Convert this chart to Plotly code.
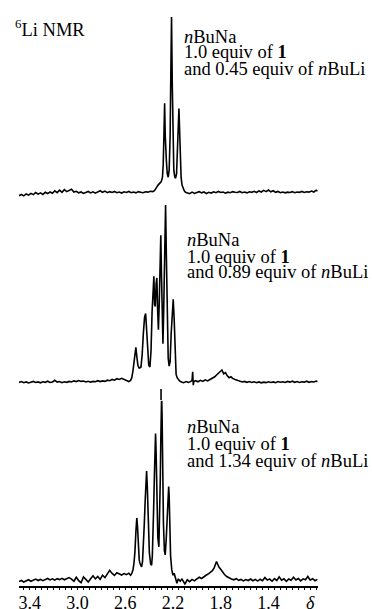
import plotly.graph_objects as go

# ---------------- data ----------------
# Top spectrum: nBuNa + 1.0 equiv of 1 + 0.45 equiv nBuLi
ppm_top = [3.49,3.47,3.45,3.43,3.41,3.39,3.37,3.35,3.33,3.31,3.29,3.27,3.25,3.23,3.21,3.19,3.17,3.15,3.13,3.11,
           3.09,3.07,3.05,3.03,3.01,2.99,2.97,2.95,2.93,2.91,2.89,2.87,2.85,2.83,2.81,2.79,2.77,2.75,2.73,2.71,
           2.69,2.67,2.65,2.63,2.61,2.59,2.57,2.55,2.53,2.51,2.49,2.47,2.45,2.43,2.41,2.39,2.37,2.355,
           2.345,2.335,2.325,2.310,2.298,2.288,2.282,2.276,2.270,2.265,2.261,2.255,2.248,2.240,2.232,2.224,
           2.218,2.212,2.206,2.200,2.193,2.185,2.178,2.170,2.163,2.156,2.150,2.145,2.139,2.132,2.124,2.115,
           2.105,2.095,
           2.08,2.06,2.04,2.02,2.00,1.98,1.96,1.94,1.92,1.90,1.88,1.86,1.84,1.82,1.80,1.78,1.76,1.74,1.72,1.70,
           1.68,1.66,1.64,1.62,1.60,1.58,1.56,1.54,1.52,1.50,1.48,1.46,1.44,1.42,1.40,1.38,1.36,1.34,1.32,1.30,
           1.28,1.26,1.24,1.22,1.20,1.18,1.16,1.14,1.12,1.10,1.08,1.06,1.04,1.02,1.00,0.99]
int_top = [-1.5,-0.8,-1.6,-0.5,-1.2,-0.2,-0.9,0.3,-0.6,0.1,-0.8,0.4,-0.3,0.6,-0.1,1.2,0.2,1.6,0.4,1.9,
           0.8,1.3,2.1,0.6,1.0,0.1,0.6,-0.2,0.4,0.9,0.1,0.7,-0.1,0.5,1.3,0.4,1.1,0.2,0.8,0.3,
           0.9,0.2,0.6,0.0,0.7,0.3,0.9,0.2,0.6,0.1,0.8,0.4,0.2,0.7,0.5,1.0,0.8,1.4,
           2.2,3.5,4.5,5.5,6.5,9,16,32,51,33,20,18,11,9,13,32,
           68,100,62,28,13,9,8.5,11,22,40,48,37,19,9,4.5,2.5,
           1.2,0.4,
           0.2,-0.4,0.5,-0.2,0.3,0.8,0.1,0.6,-0.3,0.4,0.0,0.7,0.2,0.9,0.3,0.6,-0.1,0.5,0.2,0.8,
           0.4,0.3,0.9,0.2,0.6,0.1,0.7,0.4,1.0,0.3,1.2,0.6,1.5,0.8,1.7,0.7,1.3,0.4,0.9,0.2,
           0.6,0.1,0.5,0.3,0.8,0.2,0.6,0.4,0.9,0.3,0.7,0.5,1.1,0.6,1.6,1.0]

# Middle spectrum: 0.89 equiv nBuLi
ppm_mid = [3.49,3.47,3.45,3.43,3.41,3.39,3.37,3.35,3.33,3.31,3.29,3.27,3.25,3.23,3.21,3.19,3.17,3.15,3.13,3.11,
           3.09,3.07,3.05,3.03,3.01,2.99,2.97,2.95,2.93,2.91,2.89,2.87,2.85,2.83,2.81,2.79,2.77,2.75,2.73,2.71,
           2.69,2.67,2.65,2.63,2.61,2.59,2.57,
           2.555,2.545,2.535,2.525,2.517,2.511,2.503,2.494,2.485,2.478,2.468,2.458,2.448,2.438,2.429,2.421,
           2.412,2.403,2.393,2.384,2.375,2.367,2.360,2.354,2.348,2.341,2.335,2.328,2.322,2.315,2.309,2.302,
           2.296,2.290,2.284,2.278,2.270,2.262,2.255,2.248,2.240,2.232,2.224,2.215,2.205,2.198,2.190,2.182,
           2.174,2.165,2.155,2.145,
           2.13,2.11,2.09,2.07,2.05,2.04,2.035,2.03,2.025,2.01,1.99,1.97,1.95,1.93,1.91,1.89,1.87,1.85,1.835,1.82,
           1.805,1.79,1.775,1.76,1.745,1.73,1.715,1.70,1.68,1.66,1.64,1.62,1.60,1.58,1.56,1.54,1.52,1.50,1.48,1.46,
           1.44,1.42,1.40,1.38,1.36,1.34,1.32,1.30,1.28,1.26,1.24,1.22,1.20,1.18,1.16,1.14,1.12,1.10,1.08,1.06,
           1.04,1.02,1.00,0.99]
int_mid = [0.3,0.8,0.2,0.6,0.0,0.5,0.9,0.3,0.6,0.1,0.7,0.4,1.0,0.3,0.6,1.5,0.5,0.8,0.2,0.7,
           0.4,0.9,0.6,1.2,0.8,1.4,0.9,1.1,0.6,1.0,0.5,0.9,0.7,1.3,0.8,1.2,0.9,1.6,1.3,2.0,
           1.6,2.4,2.0,2.6,1.9,1.2,0.8,
           1.5,3,7,13,18,20,15,10,8.5,8.5,9,16,28,37,39,30,
           16,10,9,18,40,58,60,44,43,56,59,40,30,45,70,83,
           60,28,22,40,78,100,70,30,14,9.5,12,28,44,47,36,14,
           5,3,1.8,1.2,
           0.6,0.2,0.8,0.3,0.9,1.5,6.3,-1.2,0.8,1.3,0.7,1.5,0.9,1.8,1.2,2.0,2.6,3.5,4.5,5.5,
           6.4,7.3,5.2,5.8,4.0,3.0,3.5,2.6,2.0,1.5,1.0,0.6,0.9,0.4,0.8,0.3,0.7,0.2,0.6,0.1,
           0.5,0.2,0.7,0.3,0.6,0.2,0.8,0.4,0.7,0.3,0.9,0.5,1.0,0.4,0.8,0.3,0.7,0.5,1.0,0.4,
           0.8,0.6,1.1,0.7]
ref_ppm = [2.30, 2.30]      # small marker below the middle spectrum
ref_int = [-3.4, -9.6]

# Bottom spectrum: 1.34 equiv nBuLi
ppm_bot = [3.49,3.47,3.45,3.43,3.41,3.39,3.37,3.35,3.33,3.31,3.29,3.27,3.25,3.23,3.21,3.19,3.17,3.15,3.13,3.11,
           3.09,3.07,3.05,3.03,3.01,2.99,2.97,2.95,2.93,2.91,2.89,2.87,2.85,2.83,2.81,2.79,2.77,2.75,2.73,2.71,
           2.69,2.67,2.65,2.63,2.61,2.59,2.57,
           2.555,2.545,2.535,2.527,2.519,2.510,2.503,2.497,2.490,2.483,2.477,2.470,2.463,2.455,2.447,2.440,
           2.433,2.427,2.421,2.415,2.410,2.404,2.398,2.387,2.379,2.373,2.368,2.362,2.356,2.351,2.346,2.341,
           2.337,2.332,2.327,2.318,2.310,2.306,2.302,2.298,2.295,2.291,2.288,2.284,2.280,2.272,2.265,2.256,
           2.250,2.246,2.241,2.236,2.232,2.228,2.220,2.210,2.200,
           2.19,2.18,2.167,2.155,2.14,2.125,2.11,2.10,2.08,2.06,2.04,2.02,2.00,1.98,1.96,1.94,1.92,1.90,1.885,1.87,
           1.855,1.845,1.835,1.825,1.815,1.80,1.785,1.77,1.75,1.73,
           1.71,1.69,1.67,1.65,1.63,1.61,1.59,1.57,1.55,1.53,1.51,1.49,1.47,1.45,1.43,1.41,1.39,1.37,1.35,1.33,
           1.31,1.29,1.27,1.25,1.23,1.21,1.19,1.17,1.15,1.13,1.11,1.09,1.07,1.05,1.03,1.01,0.99]
int_bot = [-2.0,-1.4,-2.2,-1.6,-1.0,-1.8,-1.2,-0.6,-1.4,-0.8,-1.5,-0.9,-0.3,-1.1,-0.5,-1.2,-0.4,-0.9,-0.2,-1.0,
           -0.3,0.2,-0.6,-1.8,0.4,-1.5,-2.6,0.6,-0.8,-2.2,-0.4,1.2,-0.5,0.8,-0.8,1.5,0.2,2.2,4.2,2.5,
           1.4,2.8,2.0,1.6,2.4,1.8,2.6,
           1.5,2.5,4.5,8,14,26,32.8,28,16,10,8,6.5,6,9,18,30,
           42,52,58.5,50,38,24,14,7.5,7,12,20,38,55,70,79,68,
           50,32,22,17,35,55,75,92,100,88,70,48,30,15,12.6,22,
           34,42,48,50,45,35,12,4.4,1.5,
           2.6,0.5,-2.9,-0.5,-1.8,-0.6,-2.6,-3.3,-1.0,-2.0,-0.8,-1.6,-0.5,0.4,-0.3,0.8,1.6,2.4,3.2,4.0,
           5.5,7.0,9.0,7.5,6.0,4.8,3.0,2.0,0.8,0.0,
           -0.6,-1.0,-0.4,-1.3,-0.8,-1.6,-0.9,-1.4,-0.6,-1.5,-0.8,-1.7,-0.7,-1.5,0.2,-1.2,-0.6,-1.8,-0.4,-1.4,
           0.6,-1.2,-0.5,-1.9,-0.6,-1.3,0.4,-1.1,-0.3,-1.6,-0.5,-1.0,0.8,-1.2,-0.4,-1.5,-0.8]

tick_vals = [3.4, 3.0, 2.6, 2.2, 1.8, 1.4, 1.05]
tick_text = ["3.4", "3.0", "2.6", "2.2", "1.8", "1.4", "<i>δ</i>"]

labels_top = ["<i>n</i>BuNa", "1.0 equiv of <b>1</b>", "and 0.45 equiv of <i>n</i>BuLi"]
labels_mid = ["<i>n</i>BuNa", "1.0 equiv of <b>1</b>", "and 0.89 equiv of <i>n</i>BuLi"]
labels_bot = ["<i>n</i>BuNa", "1.0 equiv of <b>1</b>", "and 1.34 equiv of <i>n</i>BuLi"]
title_text = "<sup>6</sup>Li NMR"

assert len(ppm_top) == len(int_top)
assert len(ppm_mid) == len(int_mid)
assert len(ppm_bot) == len(int_bot)

# ---------------- figure ----------------
FONT = "Liberation Serif, Times New Roman, serif"
line = dict(color="black", width=1.6)

fig = go.Figure()
fig.add_trace(go.Scatter(x=ppm_bot, y=int_bot, mode="lines", line=line, xaxis="x", yaxis="y"))
fig.add_trace(go.Scatter(x=ppm_mid, y=int_mid, mode="lines", line=line, xaxis="x", yaxis="y2"))
fig.add_trace(go.Scatter(x=ref_ppm, y=ref_int, mode="lines", line=dict(color="black", width=1.6),
                         xaxis="x", yaxis="y2"))
fig.add_trace(go.Scatter(x=ppm_top, y=int_top, mode="lines", line=line, xaxis="x", yaxis="y3"))

hidden_y = dict(visible=False, showgrid=False, zeroline=False, fixedrange=True, automargin=False)

fig.update_layout(
    template="none",
    width=372, height=609,
    margin=dict(l=19, r=54, t=10, b=23, autoexpand=False),
    paper_bgcolor="white", plot_bgcolor="white",
    showlegend=False,
    font=dict(family=FONT, size=18, color="black"),
    xaxis=dict(range=[3.49, 0.985], anchor="y", showgrid=False, zeroline=False, automargin=False,
               showline=True, linecolor="black", linewidth=1.5,
               ticks="outside", ticklen=0, tickwidth=1, tickcolor="black",
               tickmode="array", tickvals=tick_vals, ticktext=tick_text,
               tickfont=dict(family=FONT, size=18, color="black"),
               minor=dict(tickmode="linear", tick0=1.0, dtick=0.05, ticks="outside",
                          ticklen=2, tickcolor="black", tickwidth=1, showgrid=False)),
    yaxis=dict(domain=[0.0, 0.3316], range=[-4.4, 100], **hidden_y),
    yaxis2=dict(domain=[0.3215, 0.6615], range=[-10, 100], **hidden_y),
    yaxis3=dict(domain=[0.6639, 0.9878], range=[-6, 100], **hidden_y),
)

def add_block(lines, x, ys):
    for txt, y in zip(lines, ys):
        fig.add_annotation(text=txt, x=x, y=y, xref="paper", yref="paper",
                           xanchor="left", yanchor="middle", showarrow=False,
                           font=dict(family=FONT, size=18.5, color="black"))

add_block(labels_top, 0.5452, [0.953, 0.927, 0.8976])
add_block(labels_mid, 0.5552, [0.6007, 0.572, 0.5451])
add_block(labels_bot, 0.5552, [0.276, 0.2465, 0.217])

fig.add_annotation(text=title_text, x=-0.02, y=0.9685, xref="paper", yref="paper",
                   xanchor="left", yanchor="middle", showarrow=False,
                   font=dict(family=FONT, size=18.5, color="black"))

fig.write_html("out.html", config={"displayModeBar": False},
               post_script="document.body.style.margin='0';document.body.style.overflow='hidden';")
